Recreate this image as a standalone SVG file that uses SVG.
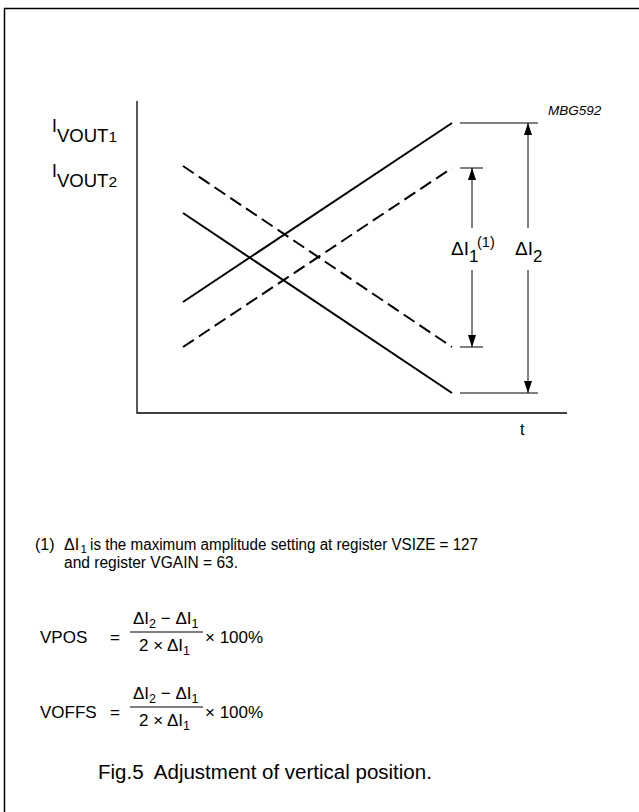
<svg xmlns="http://www.w3.org/2000/svg" width="639" height="812" viewBox="0 0 639 812">
<style>
text{font-family:"Liberation Sans",Arial,sans-serif;fill:#000}
.frame{stroke:#000;stroke-width:1.5;fill:none}
.axis{stroke:#000;stroke-width:1.3;fill:none}
.curve{stroke:#000;stroke-width:2;fill:none}
.dash{stroke-dasharray:13 6}
.ref{stroke:#000;stroke-width:1;fill:none}
.arr{stroke:#000;stroke-width:1;fill:none;marker-end:url(#ah)}
.bar{stroke:#000;stroke-width:1;fill:none}
.f{font-size:17px}
.n{font-size:16px}
.s{font-size:12.5px}
</style>
<defs>
<marker id="ah" viewBox="0 0 12 8" refX="12" refY="4" markerWidth="12" markerHeight="8" markerUnits="userSpaceOnUse" orient="auto">
<path d="M0,0 L12,4 L0,8 Z" fill="#000"/>
</marker>
</defs>
<rect width="639" height="812" fill="#fff"/>
<g id="frame">
<path class="frame" d="M4.5,812 V8.5 H639"/>
</g>
<g id="axes">
<path class="axis" d="M137,101 V413 H567"/>
<text x="520" y="435" font-size="16">t</text>
</g>
<g id="labels">
<text x="52" y="132" font-size="17.5">I<tspan x="57" y="142" font-size="18.5">VOUT</tspan><tspan font-size="15.5">1</tspan></text>
<text x="52" y="177" font-size="17.5">I<tspan x="57" y="187" font-size="18.5">VOUT</tspan><tspan font-size="15.5">2</tspan></text>
<text x="548" y="115" font-size="13.5" font-style="italic">MBG592</text>
</g>
<g id="connectors">
<line class="curve" x1="183" y1="302" x2="452" y2="123"/>
<line class="curve" x1="183" y1="213" x2="452" y2="393"/>
<line class="curve dash" x1="183" y1="166" x2="452" y2="347"/>
<line class="curve dash" x1="183" y1="347" x2="452" y2="168"/>
<line class="ref" x1="460" y1="123" x2="538" y2="123"/>
<line class="ref" x1="460" y1="168" x2="483" y2="168"/>
<line class="ref" x1="460" y1="347" x2="483" y2="347"/>
<line class="ref" x1="460" y1="393" x2="538" y2="393"/>
<line class="arr" x1="472" y1="228" x2="472" y2="168"/>
<line class="arr" x1="472" y1="270" x2="472" y2="347"/>
<line class="arr" x1="528" y1="228" x2="528" y2="123"/>
<line class="arr" x1="528" y1="270" x2="528" y2="393"/>
</g>
<g id="dI1">
<text x="451" y="255" font-size="19">ΔI<tspan dy="7" font-size="17">1</tspan><tspan x="477" y="247" font-size="14.5">(1)</tspan></text>
</g>
<g id="dI2">
<text x="515" y="255" font-size="19">ΔI<tspan dy="7" font-size="17">2</tspan></text>
</g>
<g id="footnote">
<text x="35" y="550" class="n">(1)</text>
<text x="64" y="550" class="n">ΔI</text>
<text x="80.5" y="553" font-size="11.5">1</text>
<text x="90" y="550" class="n" textLength="388" lengthAdjust="spacingAndGlyphs">is the maximum amplitude setting at register VSIZE = 127</text>
<text x="64" y="568" class="n" textLength="174" lengthAdjust="spacingAndGlyphs">and register VGAIN = 63.</text>
</g>
<g id="vpos">
<text x="40" y="643" class="f">VPOS</text>
<text x="110" y="643" class="f">=</text>
<text x="133" y="624" class="f">ΔI<tspan dy="4" class="s">2</tspan><tspan dy="-4"> − ΔI</tspan><tspan dy="4" class="s">1</tspan></text>
<line class="bar" x1="130" y1="632" x2="203" y2="632"/>
<text x="139" y="651" class="f">2 × ΔI<tspan dy="4" class="s">1</tspan></text>
<text x="205" y="643" class="f">× 100%</text>
</g>
<g id="voffs">
<text x="40" y="718" class="f">VOFFS</text>
<text x="110" y="718" class="f">=</text>
<text x="133" y="699" class="f">ΔI<tspan dy="4" class="s">2</tspan><tspan dy="-4"> − ΔI</tspan><tspan dy="4" class="s">1</tspan></text>
<line class="bar" x1="130" y1="707" x2="203" y2="707"/>
<text x="139" y="726" class="f">2 × ΔI<tspan dy="4" class="s">1</tspan></text>
<text x="205" y="718" class="f">× 100%</text>
</g>
<g id="caption">
<text x="98" y="779" font-size="20.5" xml:space="preserve">Fig.5  Adjustment of vertical position.</text>
</g>
</svg>
